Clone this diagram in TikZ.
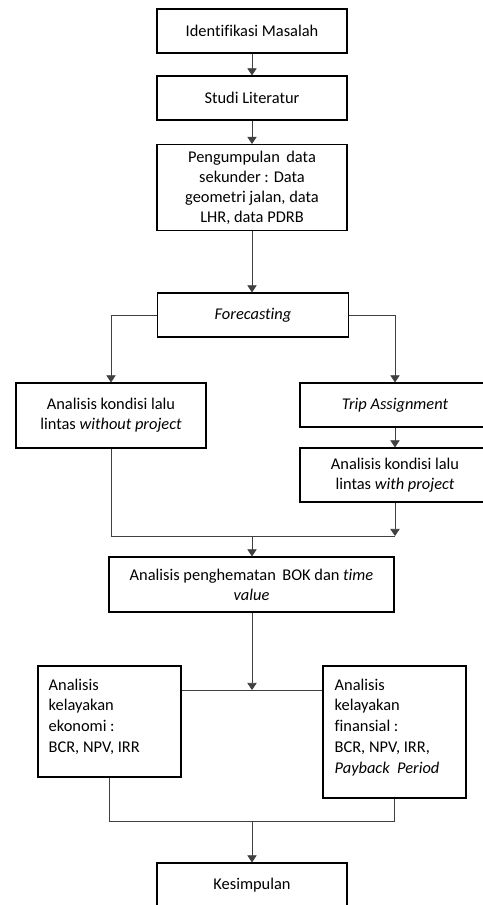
\documentclass[tikz,border=0pt]{standalone}
\usepackage{fontspec}
\setmainfont{Carlito}[Ligatures={NoCommon}]
\usetikzlibrary{arrows.meta,calc}
\begin{document}
\begin{tikzpicture}[x=0.75pt,y=-0.75pt,
  box/.style={draw=black,line width=0.9pt,rectangle,inner sep=0pt,align=center,
    font=\fontsize{12.3}{15}\selectfont},
  txt/.style={inner sep=0pt,align=left,anchor=north west,font=\fontsize{12.3}{15.6}\selectfont},
  conn/.style={draw=black!75,line width=0.6pt},
  arr/.style={conn,-{Triangle[length=5.3pt,width=7pt]}}]
\useasboundingbox (0,0) rectangle (482,905);
\node[box,minimum width=142.5pt,minimum height=33pt] (idm) at (252,31) {Identifikasi Masalah};
\node[box,minimum width=142.5pt,minimum height=33pt] (stu) at (252,98) {Studi Literatur};
\node[box,minimum width=142.5pt,minimum height=64.5pt] (dat) at (252,187.5) {Pengumpulan\ \,data\\ sekunder : Data\\ geometri jalan, data\\ LHR, data PDRB};
\coordinate (datb) at (252,229);
\node[box,minimum width=143pt,minimum height=33pt] (fore) at (253,315) {\textit{Forecasting}};
\node[box,minimum width=142.5pt,minimum height=48.75pt] (wo) at (111,415.5) {Analisis kondisi lalu\\ lintas \textit{without project}};
\node[box,minimum width=142.5pt,minimum height=33pt] (trip) at (395,405) {\textit{Trip Assignment}};
\node[box,minimum width=142.5pt,minimum height=40.5pt] (wp) at (395,475) {Analisis kondisi lalu\\ lintas \textit{with project}};
\node[box,minimum width=213.75pt,minimum height=41.25pt] (bok) at (251.5,584.5) {Analisis penghematan\ \,BOK dan \textit{time}\\ \textit{value}};
\node[box,minimum width=107.25pt,minimum height=83.25pt] (eko) at (109.5,721.5) {};
\node[box,minimum width=107.25pt,minimum height=99pt] (fin) at (394.5,732) {};
\node[box,minimum width=142.5pt,minimum height=33pt] (kes) at (252,885) {Kesimpulan};
\node[txt] (ekot) at ($(eko.north west)+(11,13)$) {Analisis\\ kelayakan\\ ekonomi :\\ BCR, NPV,\ IRR};
\node[txt] (fint) at ($(fin.north west)+(12,13)$) {Analisis\\ kelayakan\\ finansial :\\ BCR, NPV,\ IRR,\\ \textit{Payback\ \ Period}};
\coordinate (j1) at (252,536);
\coordinate (j2) at (252,690);
\coordinate (j3) at (252,821);
\draw[arr] (idm) -- (stu);
\draw[arr] (stu) -- (dat);
\draw[arr] (dat.south) -- (dat.south |- fore.north);
\draw[arr] (fore.west) -| (wo.north);
\draw[arr] (fore.east) -| (trip.north);
\draw[arr] (trip) -- (wp);
\draw[conn] (wo.south) |- (wp.south |- j1);
\draw[arr] (wp.south) -- (wp.south |- j1);
\draw[arr] (j1) -- (j1 |- bok.north);
\draw[conn] (eko.east |- j2) -- (fin.west |- j2);
\draw[arr] (bok.south -| j2) -- (j2);
\draw[conn] (eko.south) |- (fin.south |- j3) -- (fin.south);
\draw[arr] (j3) -- (j3 |- kes.north);
\end{tikzpicture}
\end{document}
